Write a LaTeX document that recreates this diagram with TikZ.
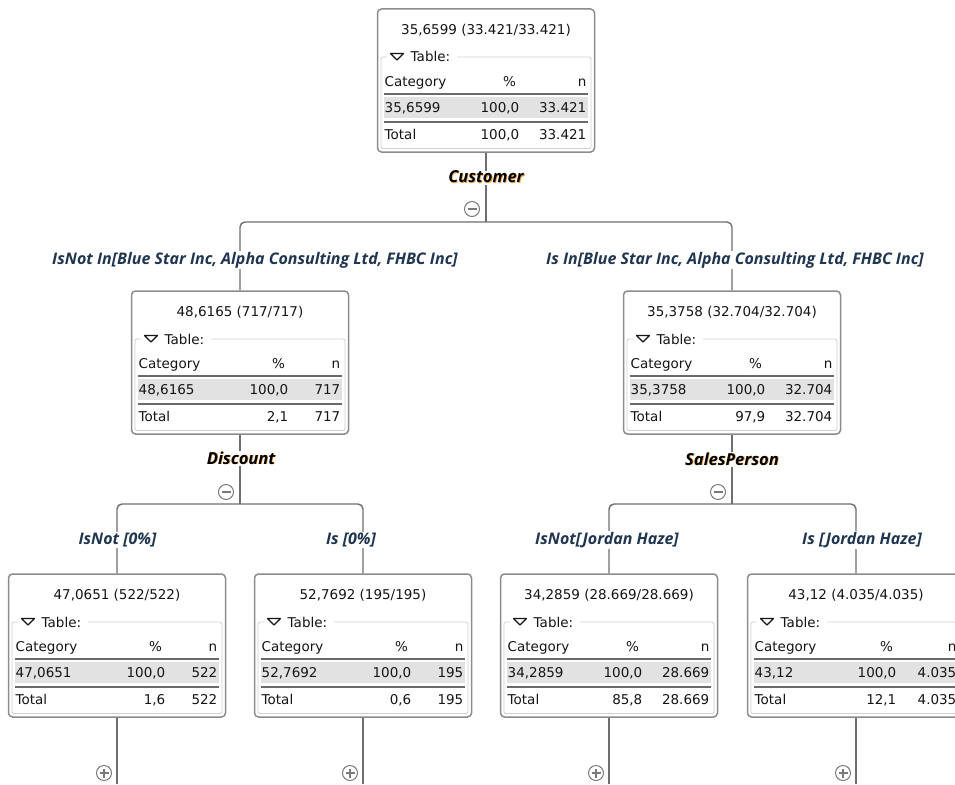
\documentclass[tikz,border=0pt]{standalone}
\usepackage{fontspec}
\setmainfont{DejaVu Sans}
\newfontfamily\lblfont{Open Sans}
\usetikzlibrary{calc}
\definecolor{linecol}{HTML}{6E6E6E}
\definecolor{boxcol}{HTML}{8C8C8C}
\definecolor{framecol}{HTML}{D0D0D0}
\definecolor{shadecol}{HTML}{E2E2E2}
\definecolor{sepcol}{HTML}{6A6A6A}
\definecolor{txtcol}{HTML}{151515}
\definecolor{lblcol}{HTML}{1F3550}
\definecolor{glowcol}{HTML}{F0A040}
\definecolor{pmcol}{HTML}{7A7A7A}
\tikzset{
  conn/.style={draw=linecol, line width=1.4pt, rounded corners=5pt},
  nodebox/.style={draw=boxcol, line width=1.5pt, rounded corners=4pt, minimum width=217pt, minimum height=143pt, inner sep=0pt, fill=white},
  cell/.style={inner sep=0pt, font=\fontsize{13.5}{15}\selectfont, text=txtcol},
  lbl/.style={inner sep=1pt, fill=white, text=lblcol, font=\lblfont\bfseries\itshape\fontsize{16}{18}\selectfont},
  splitbg/.style={inner sep=1pt, fill=white, text=glowcol, font=\lblfont\bfseries\itshape\fontsize{16.5}{18}\selectfont},
  splitfg/.style={inner sep=1pt, text=black, font=\lblfont\bfseries\itshape\fontsize{16.5}{18}\selectfont},
  pmc/.style={circle, draw=pmcol, line width=1pt, minimum size=15pt, inner sep=0pt, fill=white},
  pmline/.style={draw=pmcol, line width=1.3pt}
}
% #1 name, #2 centre x, #3 top y, #4 title, #5 category, #6 n, #7 total %, #8 right edge of % column
\newcommand\treebox[8]{%
  \begin{scope}[shift={(#2-108.5,#3)}]
    \node[nodebox] (#1) at (108.5,71.5) {};
    \node[cell, anchor=base] at (108.5,25.5) {#4};
    \draw[framecol, line width=0.9pt, rounded corners=1.5pt] (3.5,48) rectangle (213.5,139.5);
    \fill[white] (9,41) rectangle (79,55);
    \draw[txtcol, line width=1.1pt, line join=round] (13,44.5) -- (26,44.5) -- (19.5,51) -- cycle;
    \node[cell, anchor=base west] at (33,53) {Table:};
    \node[cell, anchor=base west] at (7,77) {Category};
    \node[cell, anchor=base] at (#8-10,77) {\%};
    \node[cell, anchor=base east] at (209,77) {n};
    \draw[sepcol, line width=2pt] (6,85) -- (210,85);
    \fill[shadecol] (6,88) rectangle (210,108.5);
    \node[cell, anchor=base west] at (7,103.5) {#5};
    \node[cell, anchor=base east] at (#8,103.5) {100,0};
    \node[cell, anchor=base east] at (209,103.5) {#6};
    \draw[sepcol, line width=2pt] (6,112.5) -- (210,112.5);
    \node[cell, anchor=base west] at (7,130.5) {Total};
    \node[cell, anchor=base east] at (#8,130.5) {#7};
    \node[cell, anchor=base east] at (209,130.5) {#6};
  \end{scope}}
% #1 name, #2 x, #3 y, #4 text
\newcommand\splitlabel[4]{%
  \node[splitbg] at (#2+0.8,#3+0.8) {#4};
  \node[splitfg] (#1) at (#2,#3) {#4};}
\newcommand\minusmark[3]{%
  \node[pmc] (#1) at (#2,#3) {};
  \draw[pmline] ($(#1)+(-4.5,0)$) -- ($(#1)+(4.5,0)$);}
\newcommand\plusmark[3]{%
  \node[pmc] (#1) at (#2,#3) {};
  \draw[pmline] ($(#1)+(-4.5,0)$) -- ($(#1)+(4.5,0)$);
  \draw[pmline] ($(#1)+(0,-4.5)$) -- ($(#1)+(0,4.5)$);}
\begin{document}
\begin{tikzpicture}[x=1pt, y=-1pt]
  \useasboundingbox (0,0) rectangle (955,784);
  \clip (0,0) rectangle (955,784);
  % junction and end coordinates
  \coordinate (j0) at (486,222);
  \coordinate (j1) at (240,504);
  \coordinate (j2) at (732,504);
  \coordinate (e1) at (117,784);
  \coordinate (e2) at (363,784);
  \coordinate (e3) at (609,784);
  \coordinate (e4) at (856,784);
  % boxes
  \treebox{root}{486}{9}{35,6599 (33.421/33.421)}{35,6599}{33.421}{100,0}{142}
  \treebox{L}{240}{291}{48,6165 (717/717)}{48,6165}{717}{2,1}{157}
  \treebox{R}{732}{291}{35,3758 (32.704/32.704)}{35,3758}{32.704}{97,9}{142}
  \treebox{LL}{117}{574}{47,0651 (522/522)}{47,0651}{522}{1,6}{157}
  \treebox{LR}{363}{574}{52,7692 (195/195)}{52,7692}{195}{0,6}{157}
  \treebox{RL}{609}{574}{34,2859 (28.669/28.669)}{34,2859}{28.669}{85,8}{142}
  \treebox{RR}{856}{574}{43,12 (4.035/4.035)}{43,12}{4.035}{12,1}{149}
  % connectors
  \draw[conn] (root.south) -- (j0);
  \draw[conn] (L.north) |- (j0) -| (R.north);
  \draw[conn] (L.south) -- (j1);
  \draw[conn] (LL.north) |- (j1) -| (LR.north);
  \draw[conn] (R.south) -- (j2);
  \draw[conn] (RL.north) |- (j2) -| (RR.north);
  \draw[conn] (LL.south) -- (e1);
  \draw[conn] (LR.south) -- (e2);
  \draw[conn] (RL.south) -- (e3);
  \draw[conn] (RR.south) -- (e4);
  % split labels and markers
  \splitlabel{sCust}{486}{177}{Customer}
  \minusmark{m0}{472}{209}
  \splitlabel{sDisc}{241}{458}{Discount}
  \minusmark{m1}{226}{492}
  \splitlabel{sSales}{732}{459}{SalesPerson}
  \minusmark{m2}{718}{492}
  % branch labels
  \node[lbl] (bL) at (255,260) {IsNot In[Blue Star Inc, Alpha Consulting Ltd, FHBC Inc]};
  \node[lbl] (bR) at (735,260) {Is In[Blue Star Inc, Alpha Consulting Ltd, FHBC Inc]};
  \node[lbl] (bLL) at (117.5,540) {IsNot [0\%]};
  \node[lbl] (bLR) at (351,540) {Is [0\%]};
  \node[lbl] (bRL) at (607,540) {IsNot[Jordan Haze]};
  \node[lbl] (bRR) at (862,540) {Is [Jordan Haze]};
  % expand markers
  \plusmark{p1}{104}{773}
  \plusmark{p2}{350}{773}
  \plusmark{p3}{596}{773}
  \plusmark{p4}{843}{773}
\end{tikzpicture}
\end{document}
